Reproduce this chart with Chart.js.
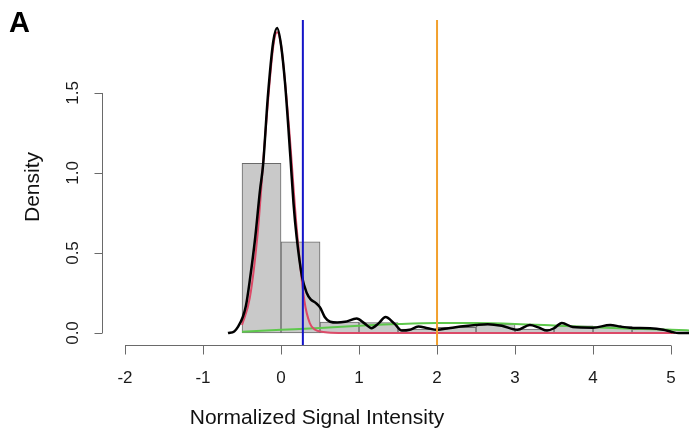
<!DOCTYPE html>
<html>
<head>
<meta charset="utf-8">
<title>Density</title>
<script src="https://cdn.jsdelivr.net/npm/chart.js@4.4.1/dist/chart.umd.min.js"></script>
<style>
  html, body { margin: 0; padding: 0; background: #fff; }
  canvas { display: block; }
</style>
</head>
<body>
<canvas id="myChart" width="689" height="433"></canvas>
<script>
// histograma (densidad), clases de ancho 0.5
const binMids = [-0.25, 0.25, 0.75, 1.25, 1.75, 2.25, 2.75, 3.25, 3.75, 4.25, 4.75];
const binDensity = [1.06, 0.57, 0.069, 0.065, 0.025, 0.035, 0.056, 0.025, 0.045, 0.04, 0.025];

// densidad estimada (curva negra)
const densX = [-0.68, -0.6, -0.55, -0.49, -0.45, -0.4, -0.33, -0.27, -0.23, -0.17, -0.1, -0.05, 0, 0.05, 0.12, 0.16, 0.2, 0.27, 0.33, 0.38, 0.44, 0.5, 0.56, 0.63, 0.72, 0.82, 0.97, 1.07, 1.16, 1.25, 1.34, 1.45, 1.55, 1.65, 1.76, 1.88, 2.0, 2.15, 2.3, 2.5, 2.65, 2.83, 3.03, 3.19, 3.3, 3.41, 3.5, 3.6, 3.74, 4.0, 4.22, 4.35, 4.47, 4.73, 4.9, 5.0, 5.1, 5.3];
const densY = [0.0, 0.01, 0.04, 0.1, 0.17, 0.33, 0.6, 0.89, 1.05, 1.47, 1.82, 1.906, 1.8, 1.57, 1.1, 0.81, 0.6, 0.35, 0.25, 0.21, 0.19, 0.16, 0.1, 0.07, 0.065, 0.07, 0.09, 0.06, 0.03, 0.06, 0.1, 0.06, 0.015, 0.02, 0.04, 0.03, 0.02, 0.03, 0.04, 0.05, 0.055, 0.045, 0.02, 0.05, 0.035, 0.015, 0.03, 0.063, 0.037, 0.033, 0.05, 0.04, 0.033, 0.03, 0.02, 0.008, 0.0, 0.0];

// componente 1 (rojo)
const redX = [-0.5, -0.4, -0.3, -0.2, -0.1, -0.05, 0, 0.1, 0.2, 0.3, 0.37, 0.44, 0.5, 0.6, 0.8, 5.05];
const redY = [0.05, 0.22, 0.62, 1.25, 1.79, 1.88, 1.8, 1.3, 0.66, 0.2, 0.06, 0.02, 0.01, 0.003, 0.0, 0.0];

// componente 2 (verde)
const greenX = [-0.5, 0, 0.5, 1, 1.5, 2, 2.5, 3, 3.5, 4, 4.5, 5, 5.3];
const greenY = [0.008, 0.02, 0.032, 0.045, 0.056, 0.062, 0.062, 0.057, 0.047, 0.036, 0.027, 0.02, 0.015];

// cortes
const cutBlue = 0.28;
const cutOrange = 2.0;

const xTicks = [-2, -1, 0, 1, 2, 3, 4, 5];
const yTicks = [0, 0.5, 1, 1.5];

const xMin = -2.295, xMax = 5.23;
const yMin = -0.075, yMax = 1.956;

function puntos(xs, ys) {
  return xs.map((v, i) => ({ x: v, y: ys[i] }));
}

const fuente = '"Liberation Sans", Arial, sans-serif';

// ejes al estilo R: linea solo entre la primera y la ultima marca
const ejes = {
  id: 'ejes',
  afterDraw(chart) {
    const ctx = chart.ctx;
    const sx = chart.scales.x;
    const sy = chart.scales.y;
    const area = chart.chartArea;
    ctx.save();
    ctx.strokeStyle = '#6a6a6a';
    ctx.lineWidth = 1;
    ctx.fillStyle = '#1a1a1a';
    ctx.font = '17px ' + fuente;
    ctx.textAlign = 'center';
    ctx.textBaseline = 'middle';

    const yEje = Math.round(area.bottom) + 0.5;
    ctx.beginPath();
    ctx.moveTo(sx.getPixelForValue(xTicks[0]), yEje);
    ctx.lineTo(sx.getPixelForValue(xTicks[xTicks.length - 1]), yEje);
    xTicks.forEach(t => {
      const px = Math.round(sx.getPixelForValue(t)) + 0.5;
      ctx.moveTo(px, yEje);
      ctx.lineTo(px, yEje + 9);
    });
    ctx.stroke();
    xTicks.forEach(t => {
      ctx.fillText(String(t), sx.getPixelForValue(t), 378);
    });

    const xEje = Math.round(area.left) + 0.5;
    ctx.beginPath();
    ctx.moveTo(xEje, sy.getPixelForValue(yTicks[0]));
    ctx.lineTo(xEje, sy.getPixelForValue(yTicks[yTicks.length - 1]));
    yTicks.forEach(t => {
      const py = Math.round(sy.getPixelForValue(t)) + 0.5;
      ctx.moveTo(xEje, py);
      ctx.lineTo(xEje - 8, py);
    });
    ctx.stroke();
    yTicks.forEach(t => {
      ctx.save();
      ctx.translate(73, sy.getPixelForValue(t));
      ctx.rotate(-Math.PI / 2);
      ctx.fillText(t.toFixed(1), 0, 0);
      ctx.restore();
    });

    ctx.fillStyle = '#111';
    ctx.font = '21px ' + fuente;
    ctx.fillText('Normalized Signal Intensity', 317, 418);
    ctx.save();
    ctx.translate(33, 187);
    ctx.rotate(-Math.PI / 2);
    ctx.fillText('Density', 0, 0);
    ctx.restore();

    ctx.font = 'bold 29px ' + fuente;
    ctx.textAlign = 'left';
    ctx.textBaseline = 'alphabetic';
    ctx.fillStyle = '#000';
    ctx.fillText('A', 9, 32);
    ctx.restore();
  }
};

const ctx = document.getElementById('myChart');
const myChart = new Chart(ctx, {
  type: 'bar',
  data: {
    datasets: [
      {
        type: 'line',
        data: [{ x: cutOrange, y: yMin }, { x: cutOrange, y: yMax }],
        borderColor: '#f2a02c',
        borderWidth: 2,
        pointRadius: 0,
        order: 1
      },
      {
        type: 'line',
        data: [{ x: cutBlue, y: yMin }, { x: cutBlue, y: yMax }],
        borderColor: '#1414c8',
        borderWidth: 2,
        pointRadius: 0,
        order: 2
      },
      {
        type: 'line',
        data: puntos(densX, densY),
        borderColor: '#000',
        borderWidth: 2.5,
        pointRadius: 0,
        cubicInterpolationMode: 'monotone',
        order: 3
      },
      {
        type: 'line',
        data: puntos(redX, redY),
        borderColor: '#dc4a68',
        borderWidth: 2,
        pointRadius: 0,
        cubicInterpolationMode: 'monotone',
        order: 4
      },
      {
        type: 'line',
        data: puntos(greenX, greenY),
        borderColor: '#5ec84c',
        borderWidth: 2,
        pointRadius: 0,
        cubicInterpolationMode: 'monotone',
        order: 5
      },
      {
        type: 'bar',
        data: puntos(binMids, binDensity),
        backgroundColor: '#c9c9c9',
        borderColor: '#6a6a6a',
        borderWidth: 1,
        borderSkipped: false,
        barPercentage: 1,
        categoryPercentage: 1,
        order: 10
      }
    ]
  },
  options: {
    responsive: false,
    devicePixelRatio: 1,
    animation: false,
    layout: { padding: { left: 102, right: 0, top: 20, bottom: 88 } },
    plugins: { legend: { display: false }, tooltip: { enabled: false } },
    scales: {
      x: {
        type: 'linear',
        offset: false,
        min: xMin,
        max: xMax,
        display: false,
        ticks: { stepSize: 1, includeBounds: false }
      },
      y: {
        type: 'linear',
        min: yMin,
        max: yMax,
        display: false,
        ticks: { stepSize: 0.5, includeBounds: false }
      }
    }
  },
  plugins: [ejes]
});
</script>
</body>
</html>
